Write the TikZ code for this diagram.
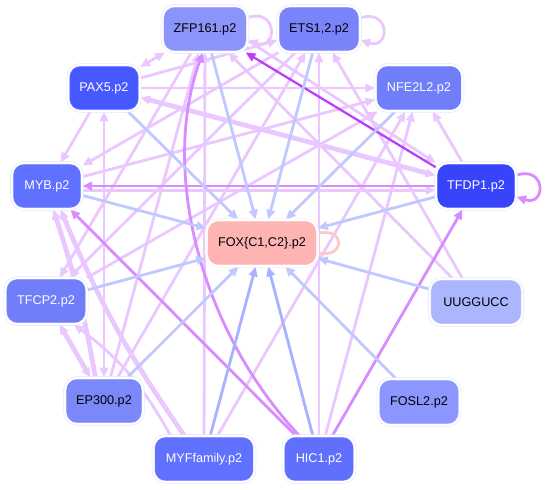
\documentclass[tikz,border=0pt]{standalone}
\usepackage{fontspec}
\setmainfont{Liberation Sans}
\usetikzlibrary{arrows.meta,calc}
\pgfdeclarelayer{edgelayer}
\pgfsetlayers{edgelayer,main}
\definecolor{cLV}{RGB}{234,200,255}
\definecolor{cMV}{RGB}{216,140,255}
\definecolor{cDV}{RGB}{185,60,255}
\definecolor{cBL}{RGB}{192,200,255}
\definecolor{cBLb}{RGB}{168,178,255}
\definecolor{cPK}{RGB}{255,200,200}
\definecolor{cZFP}{RGB}{138,148,250}
\definecolor{cETS}{RGB}{122,132,250}
\definecolor{cPAX}{RGB}{72,88,255}
\definecolor{cNFE}{RGB}{112,126,250}
\definecolor{cMYB}{RGB}{96,112,255}
\definecolor{cTFDP}{RGB}{56,68,250}
\definecolor{cFOX}{RGB}{255,180,180}
\definecolor{cTFCP}{RGB}{112,126,250}
\definecolor{cEP}{RGB}{122,136,250}
\definecolor{cMYF}{RGB}{96,112,255}
\definecolor{cHIC}{RGB}{96,112,252}
\definecolor{cUUG}{RGB}{172,182,255}
\definecolor{cFOSL}{RGB}{140,150,255}
\tikzset{
  gnode/.style={rounded corners=8.5pt, minimum height=33pt, inner xsep=8pt,
    font=\fontsize{9}{11}\selectfont, draw=blue!12, double=white,
    double distance=1.4pt, line width=0.35pt},
  >={Triangle[length=7pt,width=6pt]},
  eLV/.style={draw=cLV, line width=2pt, ->, color=cLV},
  eLVt/.style={draw=cLV, line width=3.4pt, ->, color=cLV},
  eMV/.style={draw=cMV, line width=2pt, ->, color=cMV},
  eDV/.style={draw=cDV, line width=1.6pt, ->, color=cDV},
  eBL/.style={draw=cBL, line width=2pt, ->, color=cBL},
  eBLb/.style={draw=cBLb, line width=2pt, ->, color=cBLb},
}
\begin{document}
\begin{tikzpicture}[x=0.025cm,y=-0.025cm]
\useasboundingbox (0,0) rectangle (547,489);
% nodes
\node[gnode, fill=cZFP, minimum width=60pt] (zfp) at (205,29) {ZFP161.p2};
\node[gnode, fill=cETS, minimum width=58pt] (ets) at (319,29) {ETS1,2.p2};
\node[gnode, fill=cPAX, text=white, minimum width=51pt] (pax) at (104,88) {PAX5.p2};
\node[gnode, fill=cNFE, text=white, minimum width=62pt] (nfe) at (419,88) {NFE2L2.p2};
\node[gnode, fill=cMYB, text=white, minimum width=50pt] (myb) at (47,186) {MYB.p2};
\node[gnode, fill=cTFDP, text=white, minimum width=57pt] (tfdp) at (476,186) {TFDP1.p2};
\node[gnode, fill=cFOX, draw=red!8, minimum width=79pt] (fox) at (262,243) {FOX\{C1,C2\}.p2};
\node[gnode, fill=cTFCP, text=white, minimum width=58pt] (tfcp) at (46,301) {TFCP2.p2};
\node[gnode, fill=cUUG, minimum width=66pt] (uug) at (476,302) {UUGGUCC};
\node[gnode, fill=cEP, minimum width=55pt] (ep) at (104,401) {EP300.p2};
\node[gnode, fill=cFOSL, minimum width=58pt] (fosl) at (419,402) {FOSL2.p2};
\node[gnode, fill=cMYF, text=white, minimum width=72pt] (myf) at (204,459) {MYFfamily.p2};
\node[gnode, fill=cHIC, text=white, minimum width=51pt] (hic) at (319,459) {HIC1.p2};

\begin{pgfonlayer}{edgelayer}
% light violet edges
\draw[eLV] (zfp.15) .. controls +(30,-10) and +(30,10) .. (zfp.-15);
\draw[eLV] (ets.15) .. controls +(30,-10) and +(30,10) .. (ets.-15);
\draw[eLV,<->] (pax) -- (zfp);
\draw[eLV] (pax) -- (ets);
\draw[eLV] (pax) -- (nfe);
\draw[eLVt,<->] (pax) -- (tfdp);
\draw[eLV] (pax) -- (myb);
\draw[eLV,<->] (ep) -- (pax);
\draw[eLV] (ets) -- (myb);
\draw[eLV] (myb) -- (nfe);
\draw[eLV] ([yshift=-3pt]myb.east) -- ([yshift=-3pt]tfdp.west);
\draw[eLVt,<->] (tfcp) -- (ep);
\draw[eLVt] (myf.130) to[bend left=6] (myb.-60);
\draw[eLVt] (ep.110) to[bend right=4] (myb.-75);
\draw[eLV] (myf.145) to[bend right=12] (tfcp.-40);
\draw[eLV] (myf) -- (zfp);
\draw[eLV] (ep) -- (zfp);
\draw[eLV] (ep) -- (ets);
\draw[eLV] (tfcp) -- (nfe);
\draw[eLV] (zfp) -- (tfcp);
\draw[eLV] (ets) -- (tfcp);
\draw[eLV] (myf) -- (nfe);
\draw[eLV] (hic) -- (ets);
\draw[eLV] (hic) -- (nfe);
\draw[eLV] (tfdp) -- (nfe);
\draw[eLV] (uug) -- (zfp);
\draw[eLV] (uug) -- (ets);
\draw[eLV] (zfp.-15) -- (tfdp.150);
% medium violet
\draw[eMV] (tfdp.15) .. controls +(30,-10) and +(30,10) .. (tfdp.-15);
\draw[eMV] (tfdp) -- (myb);
\draw[eMV] (hic.130) .. controls (200,330) and (160,170) .. (zfp.265);
\draw[eMV] (hic) -- (myb);
\draw[eMV] (hic) -- (tfdp);
% dark violet
\draw[eDV] (tfdp.155) -- (zfp.-30);
% blue edges to FOX
\draw[eBL] (zfp) -- (fox);
\draw[eBL] (ets) -- (fox);
\draw[eBL] (pax) -- (fox);
\draw[eBL] (nfe) -- (fox);
\draw[eBL] (myb) -- (fox);
\draw[eBL] (tfdp) -- (fox);
\draw[eBL] (tfcp) -- (fox);
\draw[eBL] (uug) -- (fox);
\draw[eBL] (ep) -- (fox);
\draw[eBLb] (myf) -- (fox);
\draw[eBLb] (hic) -- (fox);
\draw[eBL] (fosl) -- (fox);
\draw[draw=cPK, line width=2pt] (fox.10) .. controls +(28,-6) and +(28,6) .. (fox.-10);
\end{pgfonlayer}
\end{tikzpicture}
\end{document}
